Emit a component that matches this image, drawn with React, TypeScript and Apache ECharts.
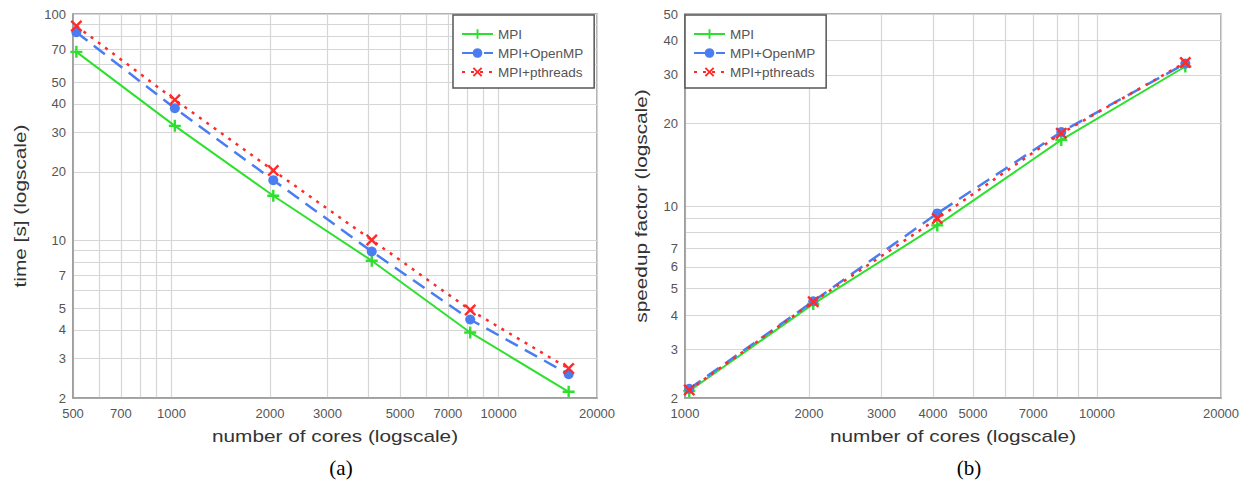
import React, { useEffect, useRef } from "react";
import * as echarts from "echarts";

// ---- data ----
const leftCores = [512, 1024, 2048, 4096, 8192, 16384];
const leftMPI = [68, 32, 15.7, 8.1, 3.9, 2.13];
const leftOpenMP = [83, 38.3, 18.4, 8.9, 4.45, 2.55];
const leftPthreads = [88.5, 41.7, 20.3, 10.0, 4.9, 2.7];

const rightCores = [1024, 2048, 4096, 8192, 16384];
const rightMPI = [2.12, 4.4, 8.5, 17.4, 32.2];
const rightOpenMP = [2.16, 4.5, 9.4, 18.6, 33];
const rightPthreads = [2.14, 4.48, 9.0, 18.4, 33.3];

const leftXGrid = [500, 600, 700, 800, 900, 1000, 2000, 3000, 4000, 5000, 6000, 7000, 8000, 9000, 10000, 20000];
const leftXLabels = [500, 700, 1000, 2000, 3000, 5000, 7000, 10000, 20000];
const leftYGrid = [2, 3, 4, 5, 6, 7, 8, 9, 10, 20, 30, 40, 50, 60, 70, 80, 90, 100];
const leftYLabels = [2, 3, 4, 5, 7, 10, 20, 30, 40, 50, 70, 100];

const rightXGrid = [1000, 2000, 3000, 4000, 5000, 6000, 7000, 8000, 9000, 10000, 20000];
const rightXLabels = [1000, 2000, 3000, 4000, 5000, 7000, 10000, 20000];
const rightYGrid = [2, 3, 4, 5, 6, 7, 8, 9, 10, 20, 30, 40, 50];
const rightYLabels = [2, 3, 4, 5, 6, 7, 10, 20, 30, 40, 50];

const seriesNames = ["MPI", "MPI+OpenMP", "MPI+pthreads"];

const FONT = "Liberation Sans, Arial, sans-serif";
const PLUS = "path://M4,0H6V4H10V6H6V10H4V6H0V4H4Z";
const XMARK = "path://M1.4,0L5,3.6L8.6,0L10,1.4L6.4,5L10,8.6L8.6,10L5,6.4L1.4,10L0,8.6L3.6,5L0,1.4Z";

function makeAxis(type: "x" | "y", idx: number, min: number, max: number, grid: number[], labels: number[]) {
  return {
    type: "log",
    gridIndex: idx,
    min,
    max,
    logBase: 10,
    axisLine: { show: true, onZero: false, lineStyle: { color: "#999", width: 1.5 } },
    axisTick: { show: false, customValues: grid },
    axisLabel: {
      customValues: labels,
      formatter: (v: number) => String(Math.round(v)),
      color: "#555",
      fontSize: 13,
      fontFamily: FONT,
      margin: type === "x" ? 9 : 7,
      hideOverlap: false,
    },
    splitLine: { show: true, lineStyle: { color: "#d6d6d6", width: 1.2 } },
    minorTick: { show: false },
  };
}

function makeSeries(idx: number, xs: number[], mpi: number[], omp: number[], pth: number[]) {
  const pair = (ys: number[]) => xs.map((x, i) => [x, ys[i]]);
  return [
    {
      name: seriesNames[0],
      type: "line",
      xAxisIndex: idx,
      yAxisIndex: idx,
      data: pair(mpi),
      symbol: PLUS,
      symbolSize: 12,
      color: "#2ee02e",
      itemStyle: { color: "#2ee02e" },
      lineStyle: { color: "#2ee02e", width: 2, type: "solid" },
      z: 2,
    },
    {
      name: seriesNames[1],
      type: "line",
      xAxisIndex: idx,
      yAxisIndex: idx,
      data: pair(omp),
      symbol: "circle",
      symbolSize: 10,
      color: "#4a7ef0",
      itemStyle: { color: "#4a7ef0" },
      lineStyle: { color: "#4a7ef0", width: 2.5, type: [14, 8] },
      z: 3,
    },
    {
      name: seriesNames[2],
      type: "line",
      xAxisIndex: idx,
      yAxisIndex: idx,
      data: pair(pth),
      symbol: XMARK,
      symbolSize: 12,
      color: "#ff2a2a",
      itemStyle: { color: "#ff2a2a" },
      lineStyle: { color: "#ff2a2a", width: 2.5, type: [3, 6] },
      z: 4,
    },
  ];
}

function makeLegend(left: number, top: number) {
  return {
    data: seriesNames,
    orient: "vertical",
    left,
    top,
    itemWidth: 31,
    itemHeight: 12,
    itemGap: 5,
    padding: [12, 11, 9, 8],
    backgroundColor: "#fff",
    borderColor: "#555",
    borderWidth: 1.5,
    borderRadius: 0,
    textStyle: { color: "#555", fontSize: 13.5, fontFamily: FONT },
    selectedMode: false,
  };
}

function titleText(x: number, y: number, text: string, rotate: boolean) {
  return {
    type: "text",
    x,
    y,
    rotation: rotate ? Math.PI / 2 : 0,
    scaleX: 1.3,
    style: {
      text,
      fontSize: 16,
      fontFamily: FONT,
      fill: "#333",
      align: "center",
      verticalAlign: "middle",
    },
  };
}

function capText(x: number, y: number, text: string) {
  return {
    type: "text",
    x,
    y,
    style: {
      text,
      fontSize: 21,
      fontFamily: "Liberation Serif, Times New Roman, serif",
      fill: "#000",
      align: "center",
      verticalAlign: "middle",
    },
  };
}

export default function App() {
  const ref = useRef<HTMLDivElement>(null);
  useEffect(() => {
    if (!ref.current) return;
    const chart = echarts.init(ref.current, null, { renderer: "svg" });
    chart.setOption({
      animation: false,
      backgroundColor: "#fff",
      grid: [
        { left: 73, right: 653, top: 14, bottom: 83, show: true, borderColor: "#999", borderWidth: 1.5, backgroundColor: "#fff" },
        { left: 685, right: 29, top: 14, bottom: 83, show: true, borderColor: "#999", borderWidth: 1.5, backgroundColor: "#fff" },
      ],
      xAxis: [
        makeAxis("x", 0, 500, 20000, leftXGrid, leftXLabels),
        makeAxis("x", 1, 1000, 20000, rightXGrid, rightXLabels),
      ],
      yAxis: [
        makeAxis("y", 0, 2, 100, leftYGrid, leftYLabels),
        makeAxis("y", 1, 2, 50, rightYGrid, rightYLabels),
      ],
      legend: [makeLegend(453, 15), makeLegend(685, 15)],
      series: [
        ...makeSeries(0, leftCores, leftMPI, leftOpenMP, leftPthreads),
        ...makeSeries(1, rightCores, rightMPI, rightOpenMP, rightPthreads),
      ],
      graphic: [
        titleText(335, 436, "number of cores (logscale)", false),
        titleText(20, 206, "time [s] (logscale)", true),
        titleText(953, 436, "number of cores (logscale)", false),
        titleText(641, 206, "speedup factor (logscale)", true),
        capText(341, 468, "(a)"),
        capText(969, 468, "(b)"),
      ],
    });
    return () => chart.dispose();
  }, []);
  return <div ref={ref} style={{ position: "absolute", left: 0, top: 0, width: 1250, height: 481 }} />;
}
